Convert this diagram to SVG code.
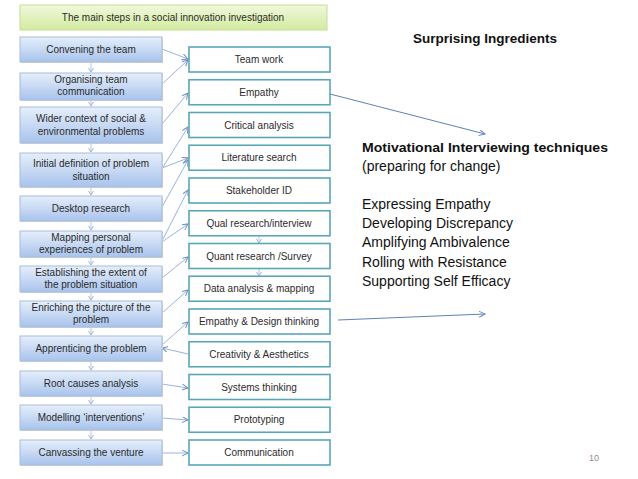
<svg xmlns="http://www.w3.org/2000/svg" width="638" height="479" viewBox="0 0 638 479">
<defs>
<linearGradient id="gBlue" x1="0" y1="0" x2="0" y2="1">
<stop offset="0" stop-color="#e6effb"/>
<stop offset="1" stop-color="#a8c3ec"/>
</linearGradient>
<linearGradient id="gGreen" x1="0" y1="0" x2="0" y2="1">
<stop offset="0" stop-color="#f0f8dc"/>
<stop offset="1" stop-color="#d3eba0"/>
</linearGradient>
<marker id="ah" markerWidth="8" markerHeight="8" refX="6" refY="3" orient="auto" markerUnits="userSpaceOnUse">
<path d="M0,0 L6,3 L0,6" fill="none" stroke="#6f8fbf" stroke-width="1"/>
</marker>
<marker id="ahs" markerWidth="6" markerHeight="6" refX="4" refY="2.5" orient="auto" markerUnits="userSpaceOnUse">
<path d="M0,0 L4,2.5 L0,5" fill="none" stroke="#9fb6d6" stroke-width="1"/>
</marker>
</defs>
<style>
.lb{fill:url(#gBlue);stroke:#a7bcd9;stroke-width:1}
.sh{fill:#d9d9d9}
.rb{fill:#ffffff;stroke:#5aa6b8;stroke-width:1.6}
.t{font-family:"Liberation Sans",Arial,sans-serif;font-size:10px;fill:#2b2b2b;text-anchor:middle}
.c{stroke:#9ab4d8;stroke-width:1;fill:none;marker-end:url(#ah)}
.v{stroke:#b5c7df;stroke-width:1;fill:none;marker-end:url(#ahs)}
.big{stroke:#5e82b8;stroke-width:1;fill:none;marker-end:url(#ah)}
.r{font-family:"Liberation Sans",Arial,sans-serif;font-size:14px;fill:#111}
.rbold{font-family:"Liberation Sans",Arial,sans-serif;font-size:13.5px;font-weight:bold;fill:#111}
</style>
<rect width="638" height="479" fill="#ffffff"/>

<g id="title">
<rect x="20" y="5" width="307" height="25" fill="url(#gGreen)" stroke="#c6dc95" stroke-width="1"/>
<text class="t" x="173" y="21">The main steps in a social innovation investigation</text>
</g>

<g id="connectors">
<line class="v" x1="91" y1="62" x2="91" y2="72"/>
<line class="v" x1="91" y1="100" x2="91" y2="106"/>
<line class="v" x1="91" y1="143" x2="91" y2="152"/>
<line class="v" x1="91" y1="187" x2="91" y2="195"/>
<line class="v" x1="91" y1="221" x2="91" y2="230"/>
<line class="v" x1="91" y1="257" x2="91" y2="265"/>
<line class="v" x1="91" y1="292" x2="91" y2="300"/>
<line class="v" x1="91" y1="327" x2="91" y2="335"/>
<line class="v" x1="91" y1="361" x2="91" y2="370"/>
<line class="v" x1="91" y1="396" x2="91" y2="404"/>
<line class="v" x1="91" y1="430" x2="91" y2="439"/>
<line class="v" x1="259" y1="236" x2="259" y2="243"/>
<line class="v" x1="259" y1="269" x2="259" y2="276"/>
<line class="c" x1="162" y1="49" x2="188" y2="59"/>
<line class="c" x1="162" y1="84" x2="188" y2="60"/>
<line class="c" x1="163" y1="123" x2="188" y2="93"/>
<line class="c" x1="163" y1="167" x2="188" y2="127"/>
<line class="c" x1="162" y1="168" x2="188" y2="158"/>
<line class="c" x1="162" y1="207" x2="188" y2="160"/>
<line class="c" x1="162" y1="241" x2="188" y2="190"/>
<line class="c" x1="162" y1="242" x2="188" y2="224"/>
<line class="c" x1="162" y1="278" x2="188" y2="257"/>
<line class="c" x1="162" y1="313" x2="188" y2="290"/>
<line class="c" x1="162" y1="345" x2="188" y2="322"/>
<line class="c" x1="188" y1="354" x2="162" y2="348"/>
<line class="c" x1="162" y1="384" x2="188" y2="388"/>
<line class="c" x1="162" y1="418" x2="188" y2="420"/>
<line class="c" x1="162" y1="453" x2="188" y2="453"/>
<line class="big" x1="330" y1="94" x2="485" y2="134"/>
<line class="big" x1="338" y1="320" x2="485" y2="314"/>
</g>

<g id="l1"><rect class="sh" x="21" y="38" width="142" height="25"/><rect class="lb" x="20" y="37" width="142" height="25"/><text class="t" x="91" y="53">Convening the team</text></g>
<g id="l2"><rect class="sh" x="21" y="74" width="142" height="27"/><rect class="lb" x="20" y="73" width="142" height="27"/><text class="t" x="91" y="83">Organising team</text><text class="t" x="91" y="95">communication</text></g>
<g id="l3"><rect class="sh" x="21" y="108" width="142" height="36"/><rect class="lb" x="20" y="107" width="142" height="36"/><text class="t" x="91" y="122">Wider context of social &amp;</text><text class="t" x="91" y="135">environmental problems</text></g>
<g id="l4"><rect class="sh" x="21" y="154" width="142" height="34"/><rect class="lb" x="20" y="153" width="142" height="34"/><text class="t" x="91" y="167">Initial definition of problem</text><text class="t" x="91" y="180">situation</text></g>
<g id="l5"><rect class="sh" x="21" y="197" width="142" height="25"/><rect class="lb" x="20" y="196" width="142" height="25"/><text class="t" x="91" y="212">Desktop research</text></g>
<g id="l6"><rect class="sh" x="21" y="232" width="142" height="26"/><rect class="lb" x="20" y="231" width="142" height="26"/><text class="t" x="91" y="241">Mapping personal</text><text class="t" x="91" y="253">experiences of problem</text></g>
<g id="l7"><rect class="sh" x="21" y="267" width="142" height="26"/><rect class="lb" x="20" y="266" width="142" height="26"/><text class="t" x="91" y="276">Establishing the extent of</text><text class="t" x="91" y="288">the problem situation</text></g>
<g id="l8"><rect class="sh" x="21" y="302" width="142" height="26"/><rect class="lb" x="20" y="301" width="142" height="26"/><text class="t" x="91" y="311">Enriching the picture of the</text><text class="t" x="91" y="323">problem</text></g>
<g id="l9"><rect class="sh" x="21" y="337" width="142" height="25"/><rect class="lb" x="20" y="336" width="142" height="25"/><text class="t" x="91" y="352">Apprenticing the problem</text></g>
<g id="l10"><rect class="sh" x="21" y="372" width="142" height="25"/><rect class="lb" x="20" y="371" width="142" height="25"/><text class="t" x="91" y="387">Root causes analysis</text></g>
<g id="l11"><rect class="sh" x="21" y="406" width="142" height="25"/><rect class="lb" x="20" y="405" width="142" height="25"/><text class="t" x="91" y="421">Modelling ‘interventions’</text></g>
<g id="l12"><rect class="sh" x="21" y="441" width="142" height="25"/><rect class="lb" x="20" y="440" width="142" height="25"/><text class="t" x="91" y="456">Canvassing the venture</text></g>

<g id="r1"><rect class="rb" x="189" y="47" width="141" height="25"/><text class="t" x="259" y="63">Team work</text></g>
<g id="r2"><rect class="rb" x="189" y="79.75" width="141" height="25"/><text class="t" x="259" y="95.75">Empathy</text></g>
<g id="r3"><rect class="rb" x="189" y="112.5" width="141" height="25"/><text class="t" x="259" y="128.5">Critical analysis</text></g>
<g id="r4"><rect class="rb" x="189" y="145.25" width="141" height="25"/><text class="t" x="259" y="161.25">Literature search</text></g>
<g id="r5"><rect class="rb" x="189" y="178" width="141" height="25"/><text class="t" x="259" y="194">Stakeholder ID</text></g>
<g id="r6"><rect class="rb" x="189" y="210.75" width="141" height="25"/><text class="t" x="259" y="226.75">Qual research/interview</text></g>
<g id="r7"><rect class="rb" x="189" y="243.5" width="141" height="25"/><text class="t" x="259" y="259.5">Quant research /Survey</text></g>
<g id="r8"><rect class="rb" x="189" y="276.25" width="141" height="25"/><text class="t" x="259" y="292.25">Data analysis &amp; mapping</text></g>
<g id="r9"><rect class="rb" x="189" y="309" width="141" height="25"/><text class="t" x="259" y="325">Empathy &amp; Design thinking</text></g>
<g id="r10"><rect class="rb" x="189" y="341.75" width="141" height="25"/><text class="t" x="259" y="357.75">Creativity &amp; Aesthetics</text></g>
<g id="r11"><rect class="rb" x="189" y="374.5" width="141" height="25"/><text class="t" x="259" y="390.5">Systems thinking</text></g>
<g id="r12"><rect class="rb" x="189" y="407.25" width="141" height="25"/><text class="t" x="259" y="423.25">Prototyping</text></g>
<g id="r13"><rect class="rb" x="189" y="440" width="141" height="25"/><text class="t" x="259" y="456">Communication</text></g>

<g id="notes">
<text class="rbold" x="485" y="43" text-anchor="middle">Surprising Ingredients</text>
<text class="rbold" x="362" y="152" textLength="246" lengthAdjust="spacingAndGlyphs">Motivational Interviewing techniques</text>
<text class="r" x="362" y="171">(preparing for change)</text>
<text class="r" x="362" y="209">Expressing Empathy</text>
<text class="r" x="362" y="228">Developing Discrepancy</text>
<text class="r" x="362" y="247">Amplifying Ambivalence</text>
<text class="r" x="362" y="267">Rolling with Resistance</text>
<text class="r" x="362" y="286">Supporting Self Efficacy</text>
<text x="594" y="461" text-anchor="middle" font-family="Liberation Sans, Arial, sans-serif" font-size="9" fill="#8c8c8c">10</text>
</g>
</svg>
